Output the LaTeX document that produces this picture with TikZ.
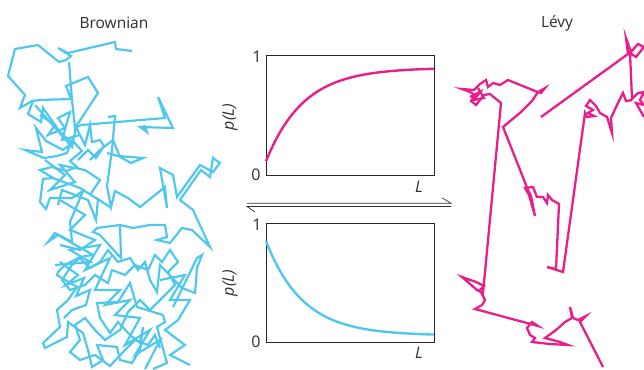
\documentclass[tikz,border=0pt]{standalone}
\usepackage{fontspec}
\setmainfont{Open Sans}
\definecolor{bcyan}{RGB}{80,200,238}
\definecolor{lpink}{RGB}{232,30,140}
\definecolor{txt}{RGB}{45,45,45}
\begin{document}
\begin{tikzpicture}[x=1pt,y=-1pt,
  walkB/.style={bcyan, line width=2.2pt, line join=miter},
  walkL/.style={lpink, line width=2.3pt, line join=miter},
  framebox/.style={draw=black!85, line width=0.8pt, minimum width=168pt, inner sep=0pt},
  curveP/.style={lpink, line width=2.4pt},
  curveB/.style={bcyan, line width=2.4pt},
  lbl/.style={text=txt, font=\fontsize{16}{16}\selectfont, inner sep=0pt},
  ttl/.style={text=txt, font=\fontsize{15.5}{15.5}\selectfont, inner sep=0pt},
  eqline/.style={draw=black!80, line width=0.7pt}]
\useasboundingbox (0,0) rectangle (644,369);
\clip (0,0) rectangle (644,369);

% titles
\node[ttl] (tB) at (114,23) {Brownian};
\node[ttl] (tL) at (557,23) {Lévy};

% plot 1
\node[framebox, minimum height=120pt] (box1) at (350,115.7) {};
\draw[curveP] plot[domain=266:434, samples=80, smooth] (\x, {175.7-120*(0.9-0.78*exp(-(\x-266)/37.6))});
\node[lbl] (one1) at (257,57) {1};
\node[lbl] (zero1) at (256,175) {0};
\node[lbl] (Lx1) at (419,187) {\itshape L};
\node[lbl, rotate=90] (py1) at (230,117) {\itshape p(L)};

% plot 2
\node[framebox, minimum height=119.4pt] (box2) at (350,283) {};
\draw[curveB] plot[domain=266:434, samples=80, smooth] (\x, {342.7-119.4*(0.06+0.79*exp(-(\x-266)/37))});
\node[lbl] (one2) at (257,225) {1};
\node[lbl] (zero2) at (256,342) {0};
\node[lbl] (Lx2) at (419,353) {\itshape L};
\node[lbl, rotate=90] (py2) at (230,283) {\itshape p(L)};

% equilibrium harpoons
\coordinate (eqTL) at (247,203.3);
\coordinate (eqTR) at (451,203.3);
\coordinate (eqBL) at (247,206.5);
\coordinate (eqBR) at (451,206.5);
\draw[eqline] (eqTL) -- (eqTR) -- ++(-9,-5.5);
\draw[eqline] (eqBR) -- (eqBL) -- ++(8,5.5);

% Brownian walk
\draw[walkB] (132,51) -- (116,49) -- (115,42) -- (68,53) -- (58,48) -- (71,56) -- (66,60) -- (59,62) -- (38,45) -- (15,49) -- (8,76) -- (25,95) -- (20,108) -- (32,101) -- (40,100) -- (71,99) -- (66,86) -- (88,77) -- (98,93) -- (75,128) -- (72,100) -- (69,62);
\draw[walkB] (75,128) -- (81,125) -- (165,118) -- (158,97) -- (173,128) -- (140,127) -- (147,132) -- (144,125);
\draw[walkB] (33,101) -- (28,114) -- (41,122) -- (43,108) -- (60,132) -- (72,143) -- (63,150) -- (46,141) -- (36,128) -- (42,152) -- (25,150) -- (44,158) -- (57,156) -- (67,153) -- (72,140) -- (82,151) -- (70,161) -- (77,167) -- (66,171) -- (52,167) -- (40,170) -- (53,178) -- (43,179) -- (40,202) -- (46,209) -- (50,198) -- (72,198) -- (83,191) -- (70,222) -- (72,242) -- (55,233) -- (48,242) -- (58,235) -- (93,255);
\draw[walkB] (35,105) -- (72,147) -- (76,127) -- (85,145) -- (90,125) -- (92,142) -- (100,140) -- (104,146) -- (96,158) -- (88,150) -- (78,160);
\draw[walkB] (40,115) -- (55,125) -- (48,135) -- (65,128) -- (58,118) -- (70,112) -- (62,140) -- (80,135);
\draw[walkB] (108,117) -- (115,116) -- (112,150) -- (107,186) -- (111,207) -- (115,191) -- (128,198) -- (140,207) -- (165,187) -- (167,208) -- (160,168) -- (173,175) -- (177,197) -- (200,165) -- (213,172) -- (220,163) -- (213,158) -- (210,177) -- (201,170) -- (180,200) -- (193,210) -- (210,247) -- (192,230) -- (182,228) -- (170,243) -- (157,240) -- (167,237) -- (165,225) -- (150,225) -- (133,228) -- (120,225) -- (97,228) -- (93,232) -- (100,235) -- (121,258) -- (120,225);
\draw[walkB] (107,153) -- (118,156) -- (143,158) -- (131,163) -- (120,157) -- (113,140) -- (100,150) -- (90,160);
\draw[walkB] (50,177) -- (80,188) -- (110,207) -- (98,199) -- (96,220) -- (88,200) -- (62,190) -- (58,205);
\draw[walkB] (45,160) -- (65,175) -- (50,190) -- (75,182) -- (60,165) -- (85,170) -- (100,180) -- (90,195);
\draw[walkB] (60,200) -- (85,215) -- (70,230) -- (95,240) -- (80,250) -- (60,245);
\draw[walkB] (93,255) -- (80,257) -- (65,265) -- (58,272) -- (57,275) -- (77,287) -- (68,300) -- (57,310) -- (60,327) -- (43,343) -- (45,348) -- (67,337) -- (68,322) -- (83,333) -- (88,350) -- (92,367) -- (103,360) -- (97,345) -- (117,347) -- (120,360) -- (132,363) -- (140,350) -- (143,327) -- (140,343) -- (130,335) -- (118,322) -- (110,333) -- (100,318) -- (97,303) -- (118,302) -- (130,283) -- (137,307) -- (163,315) -- (165,322) -- (157,327) -- (167,363) -- (153,369);
\draw[walkB] (173,307) -- (180,293) -- (197,258) -- (202,255) -- (197,268) -- (195,293) -- (182,288) -- (160,265) -- (157,292) -- (150,280) -- (145,262) -- (138,270) -- (130,258) -- (118,262) -- (108,250) -- (100,262) -- (90,268) -- (80,258) -- (72,265) -- (62,280) -- (70,290) -- (85,285) -- (95,275) -- (108,283) -- (112,270) -- (125,275) -- (135,265) -- (148,270) -- (155,255) -- (162,262) -- (170,250) -- (178,262) -- (168,272) -- (175,285) -- (160,300) -- (150,310) -- (140,300) -- (128,312) -- (120,330) -- (105,340) -- (95,330) -- (85,318) -- (75,325) -- (80,340) -- (70,352) -- (80,360) -- (95,355) -- (110,366) -- (125,350) -- (135,340) -- (148,345) -- (155,335) -- (160,348);
\draw[walkB] (60,262) -- (78,275) -- (66,285) -- (84,278) -- (76,296) -- (90,290) -- (86,305) -- (72,310) -- (64,318);
\draw[walkB] (55,265) -- (90,262) -- (70,250) -- (100,245) -- (85,270) -- (110,258) -- (95,290) -- (120,290) -- (105,305) -- (130,300) -- (115,315) -- (140,318) -- (125,345) -- (150,330) -- (135,355) -- (160,340) -- (145,369);
\draw[walkB] (160,280) -- (185,275) -- (170,300) -- (190,300) -- (178,320) -- (165,330) -- (185,345) -- (170,355) -- (190,365);

% Levy walk
\draw[walkL] (541,117) -- (628,54) -- (626,38) -- (631,52) -- (638,44) -- (644,47) -- (636,57) -- (630,53) -- (632,99) -- (638,93) -- (644,92) -- (640,100) -- (644,105) -- (636,103) -- (644,117);
\draw[walkL] (632,100) -- (626,101) -- (623,93) -- (617,105) -- (611,118) -- (612,133) -- (607,117) -- (600,113) -- (596,106) -- (590,100) -- (586,106) -- (593,110) -- (588,113) -- (594,116) -- (587,117) -- (585,113) -- (563,272) -- (547,267) -- (556,269) -- (559,204) -- (552,200) -- (548,195) -- (547,203) -- (543,197) -- (537,197) -- (533,187) -- (525,188) -- (529,195) -- (535,216) -- (531,196) -- (528,190) -- (503,127) -- (521,112) -- (532,101) -- (538,92) -- (545,88) -- (541,93) -- (535,91) -- (508,80) -- (500,85) -- (493,83) -- (488,87) -- (486,80) -- (480,84) -- (474,90) -- (462,89) -- (470,92) -- (475,95) -- (471,101) -- (476,105) -- (484,95) -- (490,94) -- (501,103) -- (483,293) -- (477,290) -- (462,277) -- (476,282) -- (484,286) -- (480,290) -- (485,300) -- (482,305) -- (475,309) -- (538,326) -- (532,322) -- (527,328) -- (530,335) -- (535,338) -- (532,342) -- (550,344) -- (568,345) -- (560,342) -- (545,338) -- (556,330) -- (565,322) -- (572,318) -- (570,307) -- (573,318) -- (578,320) -- (586,316) -- (580,322) -- (603,367);
\draw[walkL] (478,88) -- (484,98) -- (474,100) -- (480,92) -- (470,97);
\end{tikzpicture}
\end{document}
